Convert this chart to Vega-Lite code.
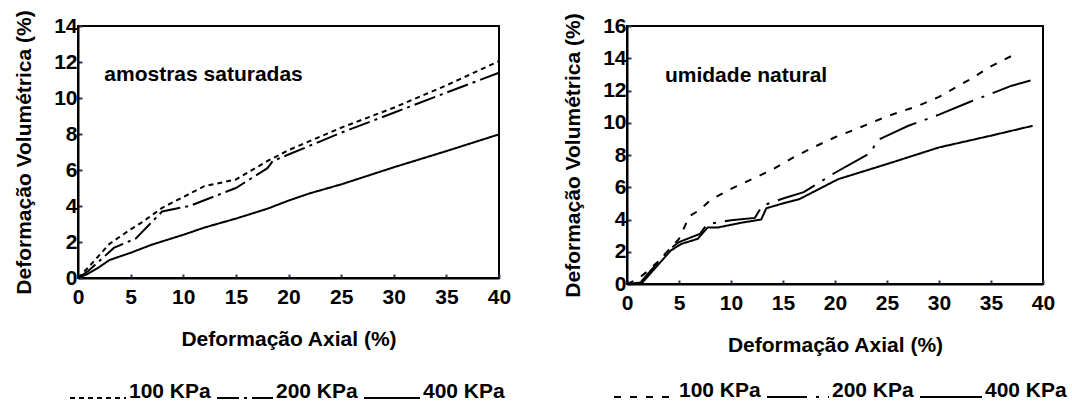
{
  "$schema": "https://vega.github.io/schema/vega-lite/v6.json",
  "background": "white",
  "padding": {"left": 12, "top": 8, "right": 5, "bottom": 0},
  "datasets": {
    "sat": [
      {"x": 0, "y": 0, "s": "100 KPa"}, {"x": 1, "y": 0.6, "s": "100 KPa"}, {"x": 3, "y": 1.9, "s": "100 KPa"}, {"x": 5, "y": 2.7, "s": "100 KPa"}, {"x": 6, "y": 3.06, "s": "100 KPa"}, {"x": 8, "y": 3.9, "s": "100 KPa"}, {"x": 10, "y": 4.5, "s": "100 KPa"}, {"x": 12, "y": 5.1, "s": "100 KPa"}, {"x": 15, "y": 5.47, "s": "100 KPa"}, {"x": 18, "y": 6.5, "s": "100 KPa"}, {"x": 20, "y": 7.1, "s": "100 KPa"}, {"x": 25, "y": 8.35, "s": "100 KPa"}, {"x": 30, "y": 9.46, "s": "100 KPa"}, {"x": 35, "y": 10.7, "s": "100 KPa"}, {"x": 40, "y": 12.05, "s": "100 KPa"},
      {"x": 0, "y": 0, "s": "200 KPa"}, {"x": 1, "y": 0.4, "s": "200 KPa"}, {"x": 3.4, "y": 1.67, "s": "200 KPa"}, {"x": 5.5, "y": 2.2, "s": "200 KPa"}, {"x": 8, "y": 3.7, "s": "200 KPa"}, {"x": 10.6, "y": 4.0, "s": "200 KPa"}, {"x": 15, "y": 5.0, "s": "200 KPa"}, {"x": 18, "y": 6.1, "s": "200 KPa"}, {"x": 18.5, "y": 6.5, "s": "200 KPa"}, {"x": 20, "y": 6.86, "s": "200 KPa"}, {"x": 25, "y": 8.07, "s": "200 KPa"}, {"x": 30, "y": 9.18, "s": "200 KPa"}, {"x": 35, "y": 10.3, "s": "200 KPa"}, {"x": 40, "y": 11.4, "s": "200 KPa"},
      {"x": 0, "y": 0, "s": "400 KPa"}, {"x": 1, "y": 0.25, "s": "400 KPa"}, {"x": 2, "y": 0.6, "s": "400 KPa"}, {"x": 3, "y": 1.0, "s": "400 KPa"}, {"x": 5, "y": 1.4, "s": "400 KPa"}, {"x": 7, "y": 1.85, "s": "400 KPa"}, {"x": 10, "y": 2.4, "s": "400 KPa"}, {"x": 12, "y": 2.8, "s": "400 KPa"}, {"x": 15, "y": 3.3, "s": "400 KPa"}, {"x": 18, "y": 3.85, "s": "400 KPa"}, {"x": 20, "y": 4.3, "s": "400 KPa"}, {"x": 22, "y": 4.7, "s": "400 KPa"}, {"x": 25, "y": 5.2, "s": "400 KPa"}, {"x": 30, "y": 6.15, "s": "400 KPa"}, {"x": 35, "y": 7.05, "s": "400 KPa"}, {"x": 40, "y": 7.98, "s": "400 KPa"}
    ],
    "nat": [
      {"x": 0, "y": 0, "s": "100 KPa"}, {"x": 1, "y": 0.3, "s": "100 KPa"}, {"x": 2, "y": 0.8, "s": "100 KPa"}, {"x": 3, "y": 1.4, "s": "100 KPa"}, {"x": 4, "y": 2.1, "s": "100 KPa"}, {"x": 5, "y": 2.8, "s": "100 KPa"}, {"x": 6, "y": 4.2, "s": "100 KPa"}, {"x": 7, "y": 4.6, "s": "100 KPa"}, {"x": 8, "y": 5.2, "s": "100 KPa"}, {"x": 10, "y": 5.9, "s": "100 KPa"}, {"x": 12, "y": 6.5, "s": "100 KPa"}, {"x": 14, "y": 7.1, "s": "100 KPa"}, {"x": 16, "y": 7.85, "s": "100 KPa"}, {"x": 18, "y": 8.5, "s": "100 KPa"}, {"x": 20, "y": 9.1, "s": "100 KPa"}, {"x": 22, "y": 9.6, "s": "100 KPa"}, {"x": 25, "y": 10.4, "s": "100 KPa"}, {"x": 28, "y": 11.05, "s": "100 KPa"}, {"x": 30, "y": 11.6, "s": "100 KPa"}, {"x": 33, "y": 12.7, "s": "100 KPa"}, {"x": 35, "y": 13.5, "s": "100 KPa"}, {"x": 37, "y": 14.15, "s": "100 KPa"},
      {"x": 0, "y": 0, "s": "200 KPa"}, {"x": 1.3, "y": 0.1, "s": "200 KPa"}, {"x": 4, "y": 2.1, "s": "200 KPa"}, {"x": 5, "y": 2.6, "s": "200 KPa"}, {"x": 7, "y": 3.1, "s": "200 KPa"}, {"x": 7.7, "y": 3.7, "s": "200 KPa"}, {"x": 10, "y": 3.95, "s": "200 KPa"}, {"x": 12.3, "y": 4.1, "s": "200 KPa"}, {"x": 13, "y": 4.85, "s": "200 KPa"}, {"x": 15, "y": 5.3, "s": "200 KPa"}, {"x": 17, "y": 5.7, "s": "200 KPa"}, {"x": 20, "y": 6.9, "s": "200 KPa"}, {"x": 23.5, "y": 8.16, "s": "200 KPa"}, {"x": 24, "y": 8.9, "s": "200 KPa"}, {"x": 26, "y": 9.5, "s": "200 KPa"}, {"x": 27, "y": 9.8, "s": "200 KPa"}, {"x": 30, "y": 10.5, "s": "200 KPa"}, {"x": 33, "y": 11.3, "s": "200 KPa"}, {"x": 35, "y": 11.8, "s": "200 KPa"}, {"x": 37, "y": 12.3, "s": "200 KPa"}, {"x": 39.5, "y": 12.75, "s": "200 KPa"},
      {"x": 0, "y": 0, "s": "400 KPa"}, {"x": 1.35, "y": 0, "s": "400 KPa"}, {"x": 4.2, "y": 2.07, "s": "400 KPa"}, {"x": 5.2, "y": 2.48, "s": "400 KPa"}, {"x": 6.8, "y": 2.8, "s": "400 KPa"}, {"x": 7.75, "y": 3.5, "s": "400 KPa"}, {"x": 8.7, "y": 3.5, "s": "400 KPa"}, {"x": 11, "y": 3.8, "s": "400 KPa"}, {"x": 12.9, "y": 4.0, "s": "400 KPa"}, {"x": 13.4, "y": 4.7, "s": "400 KPa"}, {"x": 14.8, "y": 4.96, "s": "400 KPa"}, {"x": 16.6, "y": 5.27, "s": "400 KPa"}, {"x": 20.3, "y": 6.5, "s": "400 KPa"}, {"x": 25, "y": 7.44, "s": "400 KPa"}, {"x": 30, "y": 8.47, "s": "400 KPa"}, {"x": 35, "y": 9.2, "s": "400 KPa"}, {"x": 39, "y": 9.81, "s": "400 KPa"}
    ]
  },
  "hconcat": [
    {
      "width": 421,
      "height": 252,
      "layer": [
        {
          "data": {"name": "sat"},
          "mark": {"type": "line", "color": "black", "strokeWidth": 2},
          "encoding": {
            "x": {"field": "x", "type": "quantitative", "scale": {"domain": [0, 40], "nice": false}, "axis": {"title": "Deformação Axial (%)", "values": [0, 5, 10, 15, 20, 25, 30, 35, 40]}},
            "y": {"field": "y", "type": "quantitative", "scale": {"domain": [0, 14], "nice": false}, "axis": {"title": "Deformação Volumétrica (%)", "values": [0, 2, 4, 6, 8, 10, 12, 14]}},
            "strokeDash": {"field": "s", "type": "nominal", "scale": {"domain": ["100 KPa", "200 KPa", "400 KPa"], "range": [[5, 4], [22, 5, 3, 5], [1, 0]]}, "legend": {"symbolSize": 3136, "orient": "none", "legendX": -9, "legendY": 343}}
          }
        },
        {
          "data": {"values": [{}]},
          "mark": {"type": "text", "align": "left", "baseline": "middle", "fontSize": 21, "fontWeight": "bold", "font": "Liberation Sans", "color": "black"},
          "encoding": {
            "x": {"datum": 2.5, "type": "quantitative", "axis": {"title": "Deformação Axial (%)", "values": [0, 5, 10, 15, 20, 25, 30, 35, 40]}},
            "y": {"datum": 11.3, "type": "quantitative", "axis": {"title": "Deformação Volumétrica (%)", "values": [0, 2, 4, 6, 8, 10, 12, 14]}},
            "text": {"value": "amostras saturadas"}
          }
        }
      ]
    },
    {
      "width": 416,
      "height": 258,
      "layer": [
        {
          "data": {"name": "nat"},
          "mark": {"type": "line", "color": "black", "strokeWidth": 2},
          "encoding": {
            "x": {"field": "x", "type": "quantitative", "scale": {"domain": [0, 40], "nice": false}, "axis": {"title": "Deformação Axial (%)", "values": [0, 5, 10, 15, 20, 25, 30, 35, 40]}},
            "y": {"field": "y", "type": "quantitative", "scale": {"domain": [0, 16], "nice": false}, "axis": {"title": "Deformação Volumétrica (%)", "values": [0, 2, 4, 6, 8, 10, 12, 14, 16]}},
            "strokeDash": {"field": "s", "type": "nominal", "scale": {"domain": ["100 KPa", "200 KPa", "400 KPa"], "range": [[7, 9], [40, 9, 3, 9], [1, 0]]}, "legend": {"symbolSize": 3844, "orient": "none", "legendX": -14, "legendY": 339}}
          }
        },
        {
          "data": {"values": [{}]},
          "mark": {"type": "text", "align": "left", "baseline": "middle", "fontSize": 21, "fontWeight": "bold", "font": "Liberation Sans", "color": "black"},
          "encoding": {
            "x": {"datum": 3.65, "type": "quantitative", "axis": {"title": "Deformação Axial (%)", "values": [0, 5, 10, 15, 20, 25, 30, 35, 40]}},
            "y": {"datum": 12.9, "type": "quantitative", "axis": {"title": "Deformação Volumétrica (%)", "values": [0, 2, 4, 6, 8, 10, 12, 14, 16]}},
            "text": {"value": "umidade natural"}
          }
        }
      ]
    }
  ],
  "spacing": 49,
  "resolve": {
    "scale": {"x": "independent", "y": "independent", "strokeDash": "independent"},
    "axis": {"x": "independent", "y": "independent"},
    "legend": {"strokeDash": "independent"}
  },
  "config": {
    "font": "Liberation Sans",
    "view": {"stroke": "black", "strokeWidth": 2},
    "axis": {
      "grid": false,
      "domainColor": "black",
      "domainWidth": 2,
      "tickColor": "#333366",
      "tickWidth": 2,
      "tickSize": -4,
      "labelFont": "Liberation Sans",
      "labelFontSize": 21,
      "labelFontWeight": "bold",
      "labelColor": "black",
      "labelFlush": false,
      "labelOverlap": false,
      "titleFont": "Liberation Sans",
      "titleFontSize": 21,
      "titleFontWeight": "bold",
      "titleColor": "black"
    },
    "axisX": {"labelPadding": 12, "titlePadding": 21},
    "axisY": {"labelPadding": 5, "titlePadding": 19},
    "legend": {
      "direction": "horizontal",
      "title": null,
      "symbolType": "stroke",
      "symbolStrokeColor": "black",
      "symbolStrokeWidth": 2,
      "labelFont": "Liberation Sans",
      "labelFontSize": 21,
      "labelFontWeight": "bold",
      "labelColor": "black",
      "labelBaseline": "alphabetic",
      "labelOffset": 2,
      "columnPadding": 2,
      "padding": 0
    }
  }
}
